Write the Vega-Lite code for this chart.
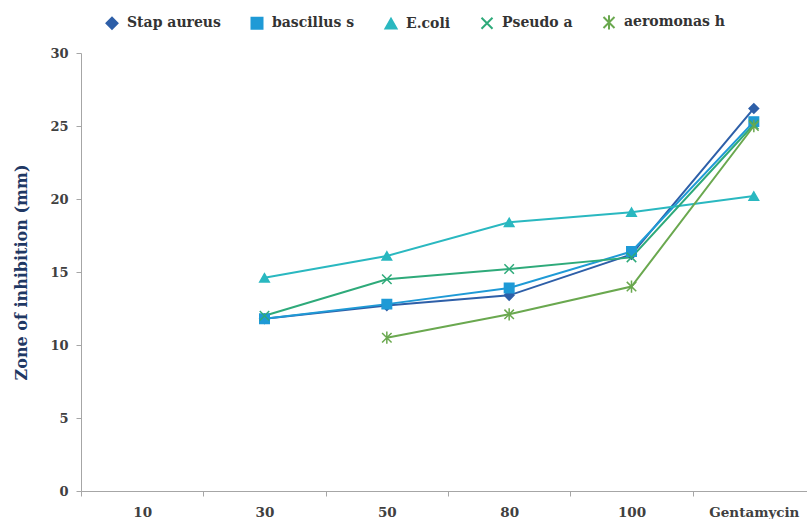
{
  "$schema": "https://vega.github.io/schema/vega-lite/v6.json",
  "width": 734,
  "height": 438,
  "autosize": {"type": "none"},
  "padding": {"left": 81, "top": 53, "right": 0, "bottom": 28},
  "background": "white",
  "config": {"view": {"stroke": null}, "font": "DejaVu Serif"},
  "data": {
    "values": [
      {"conc": "30", "organism": "Stap aureus", "value": 11.8},
      {"conc": "50", "organism": "Stap aureus", "value": 12.7},
      {"conc": "80", "organism": "Stap aureus", "value": 13.4},
      {"conc": "100", "organism": "Stap aureus", "value": 16.2},
      {"conc": "Gentamycin", "organism": "Stap aureus", "value": 26.2},
      {"conc": "30", "organism": "bascillus s", "value": 11.8},
      {"conc": "50", "organism": "bascillus s", "value": 12.8},
      {"conc": "80", "organism": "bascillus s", "value": 13.9},
      {"conc": "100", "organism": "bascillus s", "value": 16.4},
      {"conc": "Gentamycin", "organism": "bascillus s", "value": 25.3},
      {"conc": "30", "organism": "E.coli", "value": 14.6},
      {"conc": "50", "organism": "E.coli", "value": 16.1},
      {"conc": "80", "organism": "E.coli", "value": 18.4},
      {"conc": "100", "organism": "E.coli", "value": 19.1},
      {"conc": "Gentamycin", "organism": "E.coli", "value": 20.2},
      {"conc": "30", "organism": "Pseudo a", "value": 12.0},
      {"conc": "50", "organism": "Pseudo a", "value": 14.5},
      {"conc": "80", "organism": "Pseudo a", "value": 15.2},
      {"conc": "100", "organism": "Pseudo a", "value": 16.0},
      {"conc": "Gentamycin", "organism": "Pseudo a", "value": 25.1},
      {"conc": "50", "organism": "aeromonas h", "value": 10.5},
      {"conc": "80", "organism": "aeromonas h", "value": 12.1},
      {"conc": "100", "organism": "aeromonas h", "value": 14.0},
      {"conc": "Gentamycin", "organism": "aeromonas h", "value": 25.0}
    ]
  },
  "encoding": {
    "x": {
      "field": "conc",
      "type": "ordinal",
      "bandPosition": 0.5,
      "scale": {"type": "band", "domain": ["10", "30", "50", "80", "100", "Gentamycin"], "paddingInner": 0, "paddingOuter": 0},
      "axis": {
        "title": null,
        "labelAngle": 0,
        "tickBand": "extent",
        "domainColor": "#a6a6a6",
        "tickColor": "#a6a6a6",
        "tickSize": 5,
        "labelPadding": 9,
        "labelFont": "DejaVu Serif",
        "labelFontSize": 13.5,
        "labelFontWeight": "bold",
        "labelColor": "#404040",
        "grid": false
      }
    },
    "y": {
      "field": "value",
      "type": "quantitative",
      "scale": {"domain": [0, 30]},
      "axis": {
        "values": [0, 5, 10, 15, 20, 25, 30],
        "title": "Zone of inhibition (mm)",
        "titleFont": "DejaVu Serif",
        "titleFontSize": 16,
        "titleFontWeight": "bold",
        "titleColor": "#1f3864",
        "titlePadding": 20,
        "labelFont": "DejaVu Serif",
        "labelFontSize": 13,
        "labelFontWeight": "bold",
        "labelColor": "#404040",
        "labelPadding": 8,
        "domainColor": "#a6a6a6",
        "tickColor": "#a6a6a6",
        "tickSize": 5,
        "grid": false
      }
    },
    "color": {
      "field": "organism",
      "type": "nominal",
      "scale": {
        "domain": ["Stap aureus", "bascillus s", "E.coli", "Pseudo a", "aeromonas h"],
        "range": ["#2e5fa8", "#1f9ad6", "#2ab8c0", "#2eaa7a", "#6aa84f"]
      },
      "legend": {
        "orient": "none",
        "direction": "horizontal",
        "legendX": 24,
        "legendY": -38,
        "title": null,
        "columns": 5,
        "columnPadding": 26,
        "symbolSize": 121,
        "symbolStrokeWidth": 2,
        "labelFont": "DejaVu Serif",
        "labelFontSize": 14,
        "labelFontWeight": "bold",
        "labelColor": "#333333",
        "labelOffset": 8
      }
    },
    "shape": {
      "field": "organism",
      "type": "nominal",
      "scale": {
        "domain": ["Stap aureus", "bascillus s", "E.coli", "Pseudo a", "aeromonas h"],
        "range": ["diamond", "square", "triangle-up", "M-1,-1L1,1M-1,1L1,-1", "M-1,-1L1,1M-1,1L1,-1M0,-1.3L0,1.3"]
      }
    }
  },
  "layer": [
    {
      "mark": {"type": "line", "strokeWidth": 2}
    },
    {
      "mark": {"type": "point", "filled": true, "opacity": 1, "strokeWidth": 1.5, "size": 90},
      "encoding": {
        "stroke": {
          "field": "organism",
          "type": "nominal",
          "scale": {
            "domain": ["Stap aureus", "bascillus s", "E.coli", "Pseudo a", "aeromonas h"],
            "range": ["#2e5fa8", "#1f9ad6", "#2ab8c0", "#2eaa7a", "#6aa84f"]
          },
          "legend": null
        }
      }
    }
  ]
}
